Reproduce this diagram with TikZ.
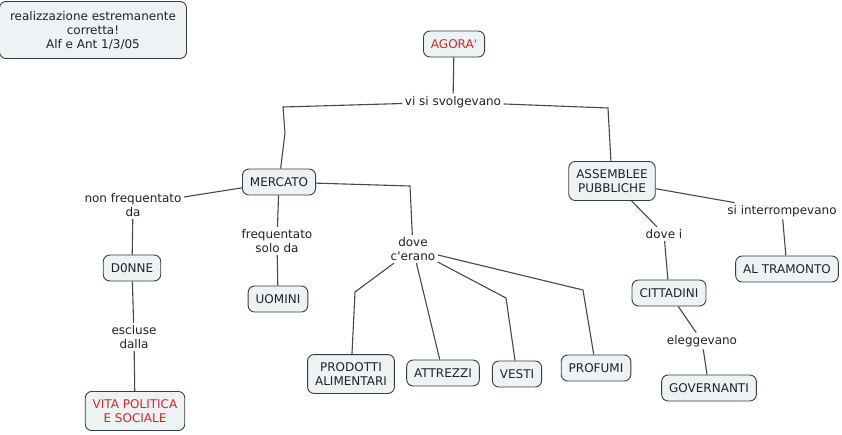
\documentclass[tikz,border=0pt]{standalone}
\usepackage{fontspec}
\setmainfont{DejaVu Sans}
\definecolor{boxfill}{HTML}{EDF2F5}
\definecolor{boxline}{HTML}{3C3C3C}
\definecolor{linkline}{HTML}{484848}
\definecolor{textgray}{HTML}{222222}
\definecolor{titlered}{HTML}{D22A2A}
\begin{document}
\begin{tikzpicture}[x=1pt,y=-1pt,line width=1.1pt,draw=linkline,
	concept/.style={rounded corners=6.5pt, draw=boxline, line width=0.9pt, fill=boxfill, align=center, inner xsep=7.5pt, inner ysep=8pt, minimum height=26pt, text=textgray},
	link/.style={align=center, inner sep=2pt, text=textgray},
	every node/.style={font=\fontsize{12}{14}\selectfont}]
	\useasboundingbox (0,0) rectangle (842,434);
	\node (note) at ( 93,  30)	[concept, minimum width=187pt, minimum height=57pt]	{realizzazione estremanente\\corretta!\\Alf e Ant 1/3/05};
	\node (Ag) at (454,  44)	[concept, text=titlered]	{AGORA\textquotesingle};
	\node (svolg) at (453, 102)	[link]	{vi si svolgevano};
	\node (Me) at (279, 182)	[concept]	{MERCATO};
	\node (As) at (612, 181)	[concept]	{ASSEMBLEE\\PUBBLICHE};
	\node (nonfreq) at (133, 205)	[link]	{non frequentato\\da};
	\node (D) at (132, 268)	[concept]	{D0NNE};
	\node (escl) at (134, 337)	[link]	{escluse\\dalla};
	\node (V) at (135, 411)	[concept, text=titlered]	{VITA POLITICA\\E SOCIALE};
	\node (freq) at (277, 241)	[link]	{frequentato\\solo da};
	\node (U) at (278, 299)	[concept]	{UOMINI};
	\node (dove) at (413, 249)	[link]	{dove\\c\textquotesingle erano};
	\node (P) at (351, 374)	[concept]	{PRODOTTI\\ALIMENTARI};
	\node (At) at (443, 373)	[concept]	{ATTREZZI};
	\node (Ve) at (517, 374)	[concept]	{VESTI};
	\node (Pr) at (596, 368)	[concept]	{PROFUMI};
	\node (dovei) at (664, 234)	[link]	{dove i};
	\node (C) at (669, 293)	[concept]	{CITTADINI};
	\node (elegg) at (702, 341)	[link]	{eleggevano};
	\node (G) at (709, 388)	[concept]	{GOVERNANTI};
	\node (interr) at (782, 211)	[link]	{si interrompevano};
	\node (T) at (787, 269)	[concept]	{AL TRAMONTO};
	\draw (Ag) -- (svolg);
	\draw (svolg) -- (283, 107) -- (285, 133) -- (Me);
	\draw (svolg) -- (608, 108) -- (As);
	\draw (Me) -- (nonfreq);
	\draw (nonfreq) -- (D);
	\draw (D) -- (escl);
	\draw (escl) -- (V);
	\draw (Me) -- (freq);
	\draw (freq) -- (U);
	\draw (Me) -- (410, 186) -- (dove);
	\draw (dove) -- (355, 292) -- (P);
	\draw (dove) -- (At);
	\draw (dove) -- (506, 298) -- (Ve);
	\draw (dove) -- (583, 290) -- (Pr);
	\draw (As) -- (dovei);
	\draw (dovei) -- (C);
	\draw (C) -- (elegg);
	\draw (elegg) -- (G);
	\draw (As) -- (interr);
	\draw (interr) -- (T);
\end{tikzpicture}
\end{document}
